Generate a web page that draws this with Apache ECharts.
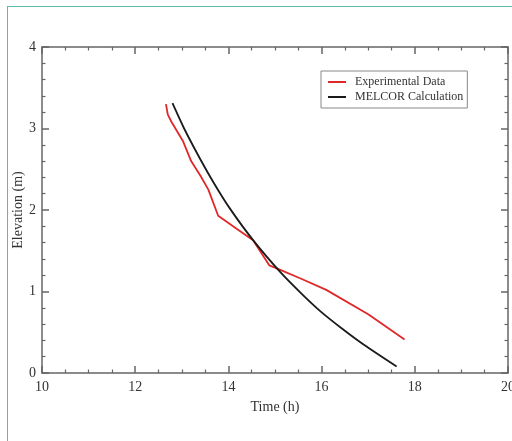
<!DOCTYPE html>
<html>
<head>
<meta charset="utf-8">
<script src="https://cdn.jsdelivr.net/npm/echarts@6/dist/echarts.min.js"></script>
<style>
html,body{margin:0;padding:0;background:#fff;}
#frame{position:absolute;left:7px;top:6px;width:520px;height:450px;border:1px solid #5cb8b0;box-sizing:border-box;}
#chart{position:absolute;left:0;top:0;width:512px;height:441px;}
</style>
</head>
<body>
<div id="frame"></div>
<div id="chart"></div>
<script>
// Experimental data: [time (h), elevation (m)]
const expTime = [12.66, 12.70, 12.78, 13.03, 13.20, 13.40, 13.57, 13.78, 14.10, 14.53, 14.88, 15.05, 15.55, 16.10, 17.00, 17.78];
const expElev = [3.30, 3.17, 3.08, 2.84, 2.60, 2.42, 2.25, 1.93, 1.80, 1.63, 1.32, 1.28, 1.16, 1.02, 0.72, 0.41];
// MELCOR calculation
const melTime = [12.80, 13.05, 13.40, 13.70, 14.03, 14.53, 15.11, 15.54, 15.97, 16.45, 16.90, 17.61];
const melElev = [3.31, 3.00, 2.62, 2.32, 2.02, 1.63, 1.24, 0.99, 0.76, 0.54, 0.35, 0.08];
const seriesNames = ['Experimental Data', 'MELCOR Calculation'];

const font = 'Liberation Serif';
const axisColor = '#666';
const chart = echarts.init(document.getElementById('chart'), null, {renderer: 'canvas'});
const pair = (xs, ys) => xs.map((x, i) => [x, ys[i]]);
const baseTick = {show: true, inside: true, length: 7, lineStyle: {color: axisColor, width: 1.5}};
const baseMinor = {show: true, splitNumber: 4, length: 3.5, lineStyle: {color: axisColor, width: 1.2}};
chart.setOption({
  animation: false,
  backgroundColor: 'transparent',
  grid: {left: 42, top: 47, right: 4, bottom: 68, containLabel: false, outerBoundsMode: 'none'},
  legend: {
    show: true,
    orient: 'vertical',
    left: 321, top: 71,
    padding: [5, 4, 5, 7],
    itemGap: 3,
    itemWidth: 18, itemHeight: 2,
    icon: 'rect',
    borderColor: '#888', borderWidth: 1,
    backgroundColor: '#fff',
    textStyle: {fontFamily: font, fontSize: 12, color: '#333', padding: [0, 0, 0, 4]},
    data: seriesNames
  },
  xAxis: [{
    type: 'value', min: 10, max: 20, interval: 2,
    name: 'Time (h)', nameLocation: 'middle', nameGap: 27, nameMoveOverlap: false,
    nameTextStyle: {fontFamily: font, fontSize: 14, color: '#333'},
    axisLine: {show: true, lineStyle: {color: axisColor, width: 1.5}},
    axisTick: baseTick,
    minorTick: baseMinor,
    splitLine: {show: false},
    axisLabel: {fontFamily: font, fontSize: 14, color: '#333', margin: 7}
  }, {
    type: 'value', min: 10, max: 20, interval: 2, position: 'top',
    axisLine: {show: true, onZero: false, lineStyle: {color: axisColor, width: 1.5}},
    axisTick: baseTick, minorTick: baseMinor,
    splitLine: {show: false}, axisLabel: {show: false}
  }],
  yAxis: [{
    type: 'value', min: 0, max: 4, interval: 1,
    name: 'Elevation (m)', nameLocation: 'middle', nameGap: 17, nameRotate: 90, nameMoveOverlap: false,
    nameTextStyle: {fontFamily: font, fontSize: 14, color: '#333'},
    axisLine: {show: true, lineStyle: {color: axisColor, width: 1.5}},
    axisTick: baseTick,
    minorTick: Object.assign({}, baseMinor, {splitNumber: 5}),
    splitLine: {show: false},
    axisLabel: {fontFamily: font, fontSize: 14, color: '#333', margin: 6}
  }, {
    type: 'value', min: 0, max: 4, interval: 1, position: 'right',
    axisLine: {show: true, onZero: false, lineStyle: {color: axisColor, width: 1.5}},
    axisTick: baseTick,
    minorTick: Object.assign({}, baseMinor, {splitNumber: 5}),
    splitLine: {show: false}, axisLabel: {show: false}
  }],
  series: [{
    name: seriesNames[0], type: 'line', data: pair(expTime, expElev),
    showSymbol: false, symbol: 'none', color: '#e02828',
    lineStyle: {color: '#e02828', width: 1.8}
  }, {
    name: seriesNames[1], type: 'line', data: pair(melTime, melElev),
    showSymbol: false, symbol: 'none', smooth: 0.25, color: '#1a1a1a',
    lineStyle: {color: '#1a1a1a', width: 1.8}
  }]
});
</script>
</body>
</html>
